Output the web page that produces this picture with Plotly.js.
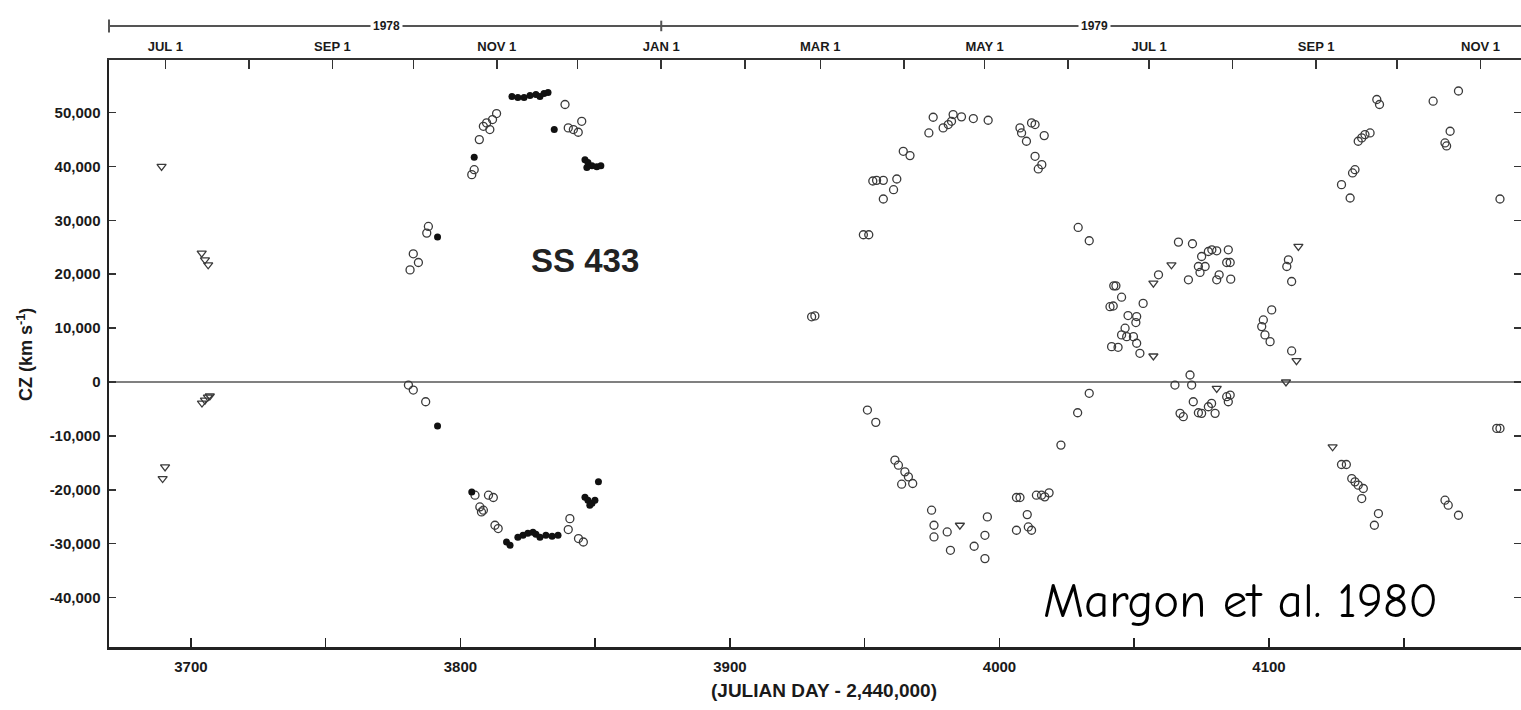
<!DOCTYPE html>
<html><head><meta charset="utf-8">
<script src="https://cdn.plot.ly/plotly-3.0.1.min.js"></script>
<style>html,body{margin:0;padding:0;background:#fff;}#chart{width:1521px;height:710px;}</style>
</head><body><div id="chart"></div>
<script>
// ---- data (Julian Day - 2,440,000 ; cz in km/s) ----
const openDay = [
 3781.3,3784.4,3782.5,3787.5,3788.1,3804.2,3805.1,3807.0,3808.5,3809.7,3810.9,3811.9,3813.4,3838.8,3840.0,3841.9,3843.7,3845.0,
 3780.7,3782.5,3787.1,3805.4,3810.4,3812.2,3807.2,3808.5,3807.8,3812.8,3814.0,3840.6,3840.0,3843.8,3845.6,
 3931.5,3930.3,3949.5,3951.5,3956.9,3960.7,3961.9,3954.4,3956.9,3953.0,3964.3,3966.8,
 3973.8,3975.4,3979.1,3981.0,3982.2,3982.8,3985.9,3990.3,3995.8,
 4007.6,4008.2,4010.0,4011.9,4013.2,4016.6,4013.2,4015.7,4014.4,4029.2,4033.3,
 4043.2,4042.4,4045.3,4041.0,4042.2,4053.3,4047.7,4050.9,4050.6,4046.6,4045.3,4047.2,4049.7,4050.9,4041.6,4044.0,4052.1,
 4059.0,4066.4,4071.6,4070.1,4073.8,4075.0,4076.3,4077.5,4078.8,4080.6,4084.9,4084.3,4085.6,4080.6,4081.5,4085.8,4074.4,
 4101.0,4097.9,4097.3,4098.5,4100.4,4107.2,4106.6,4108.4,4108.4,
 4130.1,4126.9,4131.0,4131.9,4133.1,4134.4,4135.6,4137.5,4140.0,4141.0,4160.9,4167.2,4165.3,4165.9,4170.3,4185.7,
 3951.0,3954.1,3961.2,3962.5,3964.9,3966.2,3963.7,3967.8,
 3974.8,3975.7,3975.7,3980.6,3981.8,3990.6,3994.6,3995.5,3994.6,
 4006.3,4007.6,4006.3,4010.3,4010.7,4011.9,4013.7,4015.6,4016.8,4018.4,4022.8,4029.0,4033.3,
 4065.1,4070.7,4071.3,4071.9,4078.7,4077.5,4067.0,4068.2,4073.8,4075.0,4080.0,4084.3,4085.6,4084.9,
 4126.9,4128.7,4130.7,4131.9,4133.1,4135.0,4134.4,4140.6,4139.1,4165.3,4166.5,4170.3,4185.7,4184.5
];
const openCz = [
 20800,22180,23790,27630,28870,38480,39400,44980,47450,48080,46840,48700,49810,51490,47150,46840,46340,48380,
 -560,-1490,-3660,-21000,-21000,-21430,-23180,-23790,-24110,-26580,-27190,-25350,-27380,-29050,-29690,
 12270,12100,27320,27320,33960,35690,37670,37420,37420,37300,42810,42010,
 46220,49130,47150,47770,48380,49630,49200,48880,48570,
 47150,46220,44670,48080,47770,45720,41880,40330,39540,28680,26210,
 17840,17840,15740,13980,14100,14590,12330,12140,11030,9980,8740,8420,8420,7190,6560,6440,5330,
 19890,25960,25650,18960,21430,23290,21430,24220,24530,24350,24530,22180,22180,18960,19890,19090,20330,
 13380,11520,10280,8740,7490,22680,21430,18650,5760,
 34140,36620,38790,39400,44670,45300,45910,46220,52420,51490,52110,46530,44360,43800,54000,33960,
 -5200,-7490,-14500,-15430,-16670,-17600,-18960,-18830,
 -23790,-26580,-28750,-27820,-31230,-30480,-28440,-25030,-32770,
 -21430,-21430,-27510,-24600,-26890,-27510,-21000,-21000,-21310,-20570,-11710,-5700,-2100,
 -560,1300,-560,-3660,-3970,-4590,-5820,-6440,-5700,-5820,-5820,-2730,-2420,-3660,
 -15310,-15310,-17910,-18530,-19140,-19760,-21620,-24410,-26580,-21930,-22860,-24720,-8610,-8610
];
const filledDay = [
 3791.5,3805.1,3834.8,
 3819.1,3821.3,3823.6,3825.8,3828.0,3829.5,3831.0,3832.5,
 3846.2,3847.3,3848.8,3850.6,3852.1,3846.9,
 3791.5,3804.2,3817.1,3818.4,
 3821.3,3823.2,3825.0,3826.9,3828.0,3829.5,3831.7,3834.0,3836.2,
 3846.2,3847.3,3848.8,3849.9,3848.0,3851.2
];
const filledCz = [
 26900,41690,46840,
 52970,52790,52790,53160,53350,52970,53530,53720,
 41260,40710,40150,39960,40150,39780,
 -8180,-20390,-29690,-30300,
 -28810,-28440,-28070,-27880,-28250,-28810,-28440,-28620,-28440,
 -21380,-21930,-22490,-21930,-22860,-18530
];
const triDay = [3689.1,3704.0,3705.2,3706.4,3690.4,3689.5,3704.1,3705.2,3706.3,3707.0,
 3985.3,4057.1,4057.1,4063.8,4080.6,4106.3,4110.2,4123.6,4110.9];
const triCz = [40020,23920,22680,21750,-15740,-17910,-3900,-3350,-2790,-2600,
 -26580,4830,18340,21750,-1180,0,3960,-12020,25150];

// ---- axes ticks ----
const dayTickVals = [3700,3750,3800,3850,3900,3950,4000,4050,4100,4150];
const dayTickText = ["3700","","3800","","3900","","4000","","4100",""];
const monthTickVals = [3690.5,3721.5,3752.5,3782.5,3813.5,3843.5,3874.5,3905.5,3933.5,3964.5,3994.5,4025.5,4055.5,4086.5,4117.5,4147.5,4178.5];
const monthTickText = ["JUL 1","","SEP 1","","NOV 1","","JAN 1","","MAR 1","","MAY 1","","JUL 1","","SEP 1","","NOV 1"];
const czTickVals = [-40000,-30000,-20000,-10000,0,10000,20000,30000,40000,50000];
const czTickText = ["-40,000","-30,000","-20,000","-10,000","0","10,000","20,000","30,000","40,000","50,000"];
const yearLabels = ["1978","1979"];
const yearLabelDay = [3772.7,4035.1];
const yearBoundaryDay = 3874.5;

const XR = [3669.6, 4193.5];
const YR = [-49170, 59750];
const ink = '#1a1a1a';
const bold = {family:'Liberation Sans, Arial, sans-serif', weight:700, color:ink};

const traces = [
 {x:openDay, y:openCz, type:'scatter', mode:'markers', hoverinfo:'skip',
  marker:{symbol:'circle-open', size:8, color:'#3a3a3a', line:{width:1.3, color:'#3a3a3a'}}},
 {x:filledDay, y:filledCz, type:'scatter', mode:'markers', hoverinfo:'skip',
  marker:{symbol:'circle', size:7, color:'#111'}},
 {x:triDay, y:triCz, type:'scatter', mode:'markers', hoverinfo:'skip',
  marker:{symbol:'triangle-down-open', size:8, color:'#3a3a3a', line:{width:1.3, color:'#3a3a3a'}}},
 {x:monthTickVals, y:monthTickVals.map(()=>null), xaxis:'x2', type:'scatter', mode:'markers', hoverinfo:'skip', showlegend:false}
];

const layout = {
 width:1521, height:710, showlegend:false,
 paper_bgcolor:'#fff', plot_bgcolor:'#fff',
 margin:{l:109, r:0, t:60, b:63},
 xaxis:{range:XR, tickvals:dayTickVals, ticktext:dayTickText, ticks:'inside', ticklen:9, tickwidth:1.5, tickcolor:'#222',
  showline:true, linecolor:'#222', linewidth:2.5, showgrid:false, zeroline:false,
  tickfont:Object.assign({size:15}, bold), ticklabelstandoff:4},
 xaxis2:{overlaying:'x', side:'top', anchor:'y', range:XR, tickvals:monthTickVals, ticktext:monthTickText,
  ticks:'inside', ticklen:9, tickwidth:1.5, tickcolor:'#333', showline:true, linecolor:'#333', linewidth:2,
  showgrid:false, zeroline:false, tickfont:Object.assign({size:13}, bold), ticklabelstandoff:2},
 yaxis:{range:YR, tickvals:czTickVals, ticktext:czTickText, ticks:'inside', ticklen:7, tickwidth:1.5, tickcolor:'#333',
  showline:true, linecolor:'#222', linewidth:2.5, mirror:'ticks', showgrid:false,
  zeroline:true, zerolinecolor:'#808080', zerolinewidth:2.5,
  tickfont:Object.assign({size:15}, bold), ticklabelstandoff:3},
 shapes:[
  {type:'line', xref:'paper', yref:'paper', x0:0, x1:1, y0:1.0579, y1:1.0579, line:{color:'#555', width:2}},
  {type:'line', xref:'paper', yref:'paper', x0:0, x1:0, y0:1.047, y1:1.069, line:{color:'#555', width:2}},
  {type:'line', xref:'x', yref:'paper', x0:yearBoundaryDay, x1:yearBoundaryDay, y0:1.049, y1:1.067, line:{color:'#555', width:2}}
 ],
 annotations:[
  {text:yearLabels[0], xref:'x', yref:'paper', x:yearLabelDay[0], y:1.0579, yanchor:'middle', xanchor:'center', showarrow:false, bgcolor:'#fff', borderpad:2, font:Object.assign({size:12}, bold)},
  {text:yearLabels[1], xref:'x', yref:'paper', x:yearLabelDay[1], y:1.0579, yanchor:'middle', xanchor:'center', showarrow:false, bgcolor:'#fff', borderpad:2, font:Object.assign({size:12}, bold)},
  {text:'SS 433', xref:'x', yref:'y', x:3846.2, y:22640, showarrow:false, font:Object.assign({size:33}, bold, {color:'#222'})},
  {text:'Margon et al. 1980', xref:'paper', yref:'paper', x:0.801, y:0.078, showarrow:false, xanchor:'center', yanchor:'middle',
   font:{family:'Comic Sans MS, Comic Neue, DejaVu Sans, sans-serif', size:49, color:'#000'}},
  {text:'CZ (km s<sup>-1</sup>)', xref:'paper', yref:'paper', x:-0.0595, y:0.499, textangle:-90, showarrow:false,
   xanchor:'center', yanchor:'middle', font:Object.assign({size:18}, bold)},
  {text:'(JULIAN DAY - 2,440,000)', xref:'paper', yref:'paper', x:0.5064, y:-0.0733, showarrow:false,
   xanchor:'center', yanchor:'middle', font:Object.assign({size:19}, bold)}
 ]
};
Plotly.newPlot('chart', traces, layout, {staticPlot:true, displayModeBar:false});
</script></body></html>
